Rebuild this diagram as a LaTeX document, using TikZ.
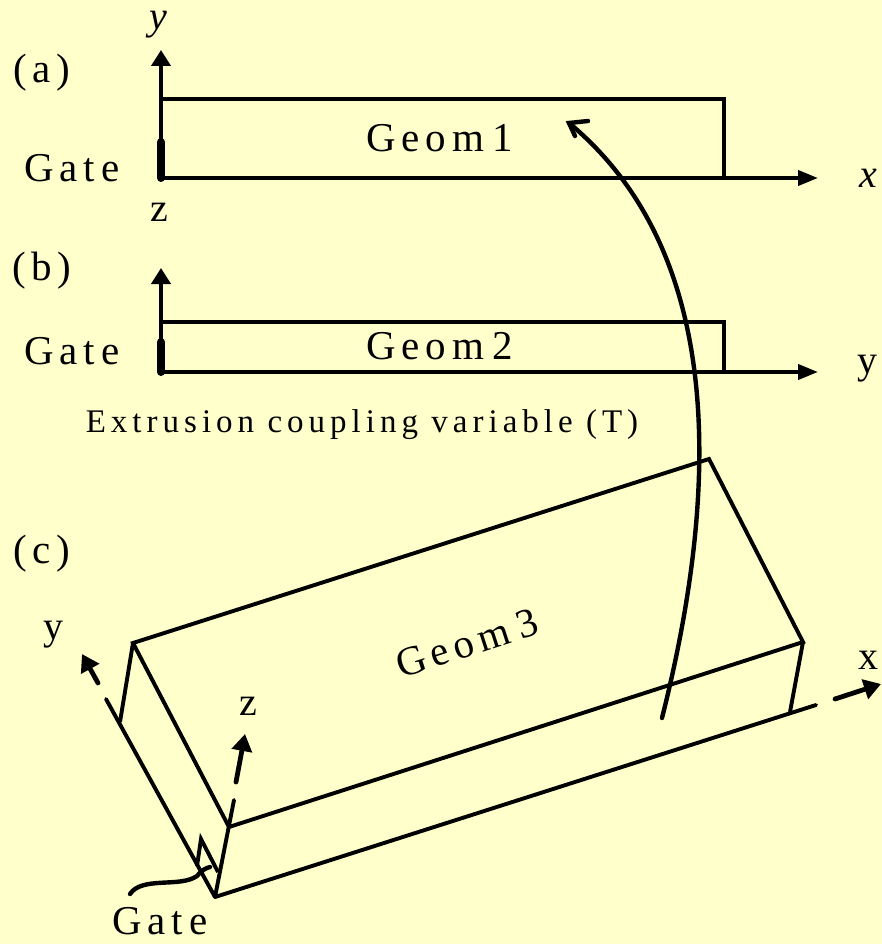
\documentclass[tikz,border=0pt]{standalone}
\usepackage{fontspec}
\setmainfont{Liberation Serif}
\newfontfamily\spaced[LetterSpace=14]{Liberation Serif}
\newfontfamily\spacedsm[LetterSpace=15.2]{Liberation Serif}
\usetikzlibrary{arrows.meta}
\definecolor{paper}{HTML}{FFFFCC}
\tikzset{
  ln/.style={line width=3.9pt,line join=miter,black},
  vaxis/.style={ln,-{Triangle[width=19pt,length=16pt]}},
  haxis/.style={ln,-{Triangle[width=15pt,length=20pt]}},
  daxis/.style={line width=4.8pt,line cap=round,-{Triangle[width=20pt,length=17pt]}},
  thickgate/.style={line width=8pt,line cap=round},
  lab/.style={inner sep=0pt,font=\fontsize{41}{43}\selectfont\spaced,anchor=center},
  plain/.style={inner sep=0pt,font=\fontsize{40}{42}\selectfont,anchor=center},
  ital/.style={inner sep=0pt,font=\fontsize{40}{42}\selectfont\itshape,anchor=center},
  small/.style={inner sep=0pt,font=\fontsize{33}{35}\selectfont\spacedsm,anchor=center},
  curve/.style={line width=4.4pt,line cap=round,line join=miter},
}
\begin{document}
\begin{tikzpicture}[x=1pt,y=-1pt]
\useasboundingbox (0,0) rectangle (882,944);
\fill[paper] (0,0) rectangle (882,944);
% (a)
\coordinate (ao) at (161,178);
\coordinate (ay) at (161,50);
\coordinate (ax) at (818,178);
\coordinate (atl) at (161,99);
\coordinate (atr) at (724,99);
\coordinate (abr) at (724,178);
\coordinate (ag) at (161,142);
\draw[vaxis] (ao) -- (ay);
\draw[haxis] (ao) -- (ax);
\draw[ln] (atl) -- (atr) -- (abr);
\draw[thickgate] (ao) -- (ag);
\node[ital] (ylab) at (158,25) {y};
\node[ital] (xlab) at (868,178) {x};
\node[plain] (zlab) at (159,212) {z};
\node[lab] (alab) at (42,73) {(a)};
\node[lab] (g1) at (72,168) {Gate};
\node[lab] (geom1) at (440,138) {Geom\hspace{9pt}1};
% (b)
\coordinate (bo) at (161,372);
\coordinate (by) at (161,268);
\coordinate (bx) at (818,372);
\coordinate (btl) at (161,322);
\coordinate (btr) at (724,322);
\coordinate (bbr) at (724,372);
\coordinate (bg) at (161,342);
\draw[vaxis] (bo) -- (by);
\draw[haxis] (bo) -- (bx);
\draw[ln] (btl) -- (btr) -- (bbr);
\draw[thickgate] (bo) -- (bg);
\node[plain] (ylab2) at (867,369) {y};
\node[lab] (blab) at (42,271) {(b)};
\node[lab] (g2) at (72,351) {Gate};
\node[lab] (geom2) at (440,346) {Geom\hspace{9pt}2};
\node[small] (ext) at (362,425) {Extrusion coupling variable (T)};
% (c)
\node[lab] (clab) at (42,554) {(c)};
\coordinate (A) at (215,897);
\coordinate (B) at (229,827);
\coordinate (C) at (803,642);
\coordinate (D) at (709,459);
\coordinate (E) at (133,643);
\coordinate (F) at (120,722);
\coordinate (G) at (790,712);
\coordinate (H) at (816,705);
\coordinate (I) at (106,699);
\coordinate (J) at (234,800);
\draw[ln,line cap=round] (A) -- (H);
\draw[ln,line cap=round] (A) -- (I);
\draw[ln] (B) -- (C) -- (D) -- (E) -- cycle;
\draw[ln] (E) -- (F);
\draw[ln] (C) -- (G);
\draw[ln,line cap=round] (A) -- (J);
\coordinate (ys) at (98,683);
\coordinate (ye) at (82,654);
\coordinate (zs) at (236,782);
\coordinate (ze) at (245,734);
\coordinate (xs) at (835,699);
\coordinate (xe) at (881,684);
\draw[daxis] (ys) -- (ye);
\draw[daxis] (zs) -- (ze);
\draw[daxis] (xs) -- (xe);
\node[plain] (cy) at (53,635) {y};
\node[plain] (cz) at (248,706) {z};
\node[plain] (cx) at (868,660) {x};
\node[lab,rotate=18] (geom3) at (467,643) {Geom\hspace{9pt}3};
% gate marker
\coordinate (m1) at (197,866);
\coordinate (m2) at (201,839);
\coordinate (m3) at (218,872);
\draw[ln] (m1) -- (m2) -- (m3);
\coordinate (c0) at (130,894);
\coordinate (c1) at (210,867);
\draw[curve] (c0) .. controls (142,876) and (180,888) .. (197,876) .. controls (202,870) and (206,868) .. (c1);
\node[lab] (g3) at (160,921) {Gate};
% long arrow
\coordinate (s) at (662,718);
\coordinate (t) at (569,123);
\coordinate (b1) at (588,121);
\coordinate (b2) at (575,136);
\draw[curve] (s) .. controls (722,480) and (722,250) .. (t);
\draw[curve] (b1) -- (t) -- (b2);
\end{tikzpicture}
\end{document}
